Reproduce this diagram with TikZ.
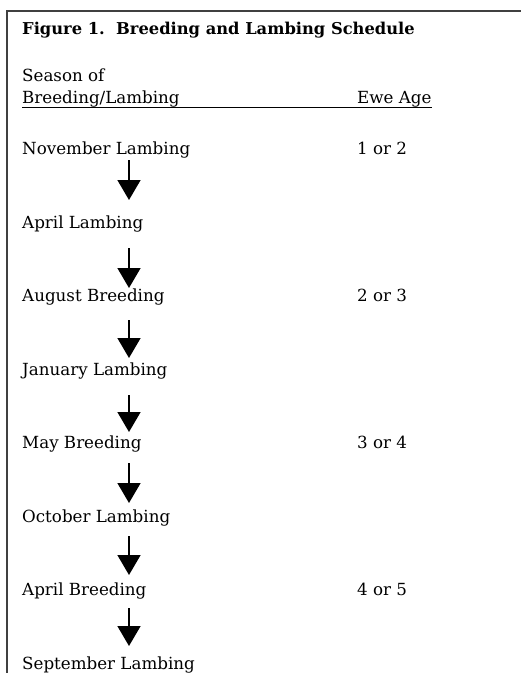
\documentclass[tikz,border=0pt]{standalone}
\usepackage{fontspec}
\setmainfont{DejaVu Serif}
\usetikzlibrary{arrows.meta}

\begin{document}
\begin{tikzpicture}[x=1pt, y=-1pt,
    every node/.style={inner sep=0pt, font=\fontsize{16.7}{19}\selectfont},
    entry/.style={anchor=base west},
    flow/.style={-{Triangle[width=23pt,length=20pt]}, line width=1.6pt}]
    \useasboundingbox (0,0) rectangle (521,673);

    % Frame
    \coordinate (TL) at (7,11);
    \coordinate (TR) at (521,11);
    \coordinate (BL) at (7,673);
    \draw[line width=2.5pt, black!75] (TR) -- (TL) -- (BL);

    % Heading
    \node[entry, font=\bfseries\fontsize{16.3}{19}\selectfont] (title) at (22,34) {Figure 1.\ \ Breeding and Lambing Schedule};
    \node[entry] (season) at (22,81) {Season of};
    \node[entry] (head) at (22,103) {Breeding/Lambing};
    \node[entry] (age) at (357,103) {Ewe Age};
    \draw[line width=1pt] ([yshift=-4.5pt]head.base west) -- ([yshift=-4.5pt]age.base east);

    % Seasons
    \node[entry] (nov) at (22,154) {November Lambing};
    \node[entry] (aprL) at (22,228) {April Lambing};
    \node[entry] (aug) at (22,301.5) {August Breeding};
    \node[entry] (jan) at (22,375) {January Lambing};
    \node[entry] (may) at (22,448.5) {May Breeding};
    \node[entry] (oct) at (22,522) {October Lambing};
    \node[entry] (aprB) at (22,595.5) {April Breeding};
    \node[entry] (sep) at (22,669) {September Lambing};

    % Ages
    \node[entry] (age1) at (357,154) {1 or 2};
    \node[entry] (age2) at (357,301.5) {2 or 3};
    \node[entry] (age3) at (357,448.5) {3 or 4};
    \node[entry] (age4) at (357,595.5) {4 or 5};

    % Arrow ends
    \coordinate (a1) at (129,160); \coordinate (b1) at (129,200);
    \coordinate (a2) at (129,248); \coordinate (b2) at (129,288);
    \coordinate (a3) at (129,320); \coordinate (b3) at (129,358);
    \coordinate (a4) at (129,395); \coordinate (b4) at (129,432);
    \coordinate (a5) at (129,463); \coordinate (b5) at (129,503);
    \coordinate (a6) at (129,536); \coordinate (b6) at (129,575);
    \coordinate (a7) at (129,608); \coordinate (b7) at (129,646);

    % Arrows
    \draw[flow] (a1) -- (b1);
    \draw[flow] (a2) -- (b2);
    \draw[flow] (a3) -- (b3);
    \draw[flow] (a4) -- (b4);
    \draw[flow] (a5) -- (b5);
    \draw[flow] (a6) -- (b6);
    \draw[flow] (a7) -- (b7);
\end{tikzpicture}
\end{document}
